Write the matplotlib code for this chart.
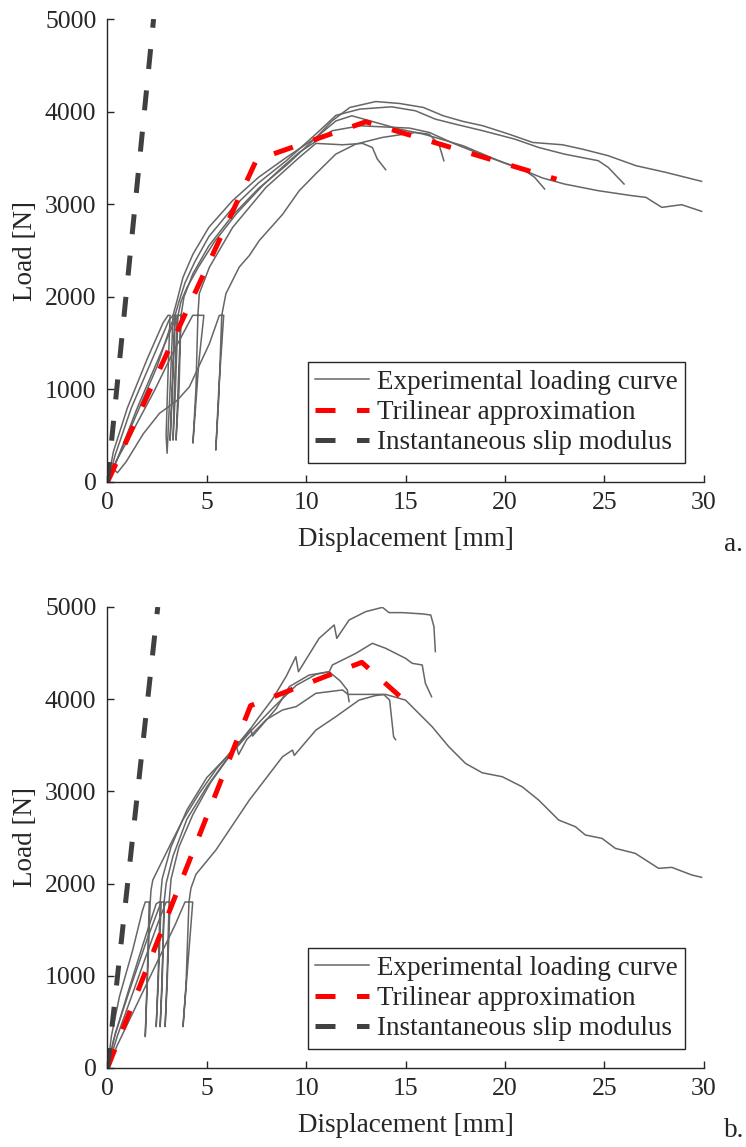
import matplotlib
matplotlib.use("Agg")
import matplotlib.pyplot as plt

plt.rcParams['font.family'] = ['Liberation Serif', 'DejaVu Serif']
plt.rcParams['font.size'] = 19.5

# ---------------- panel a: experimental curves (displacement mm, load N)
a1_x = [0, 0.3, 1.0, 2.0, 2.8, 3.05, 3.15, 3.05, 2.95, 3.0, 3.15, 3.3, 3.5, 3.8, 4.3, 5.1, 6.3, 7.6, 9.0, 10.5,
        11.3, 12.2, 13.5, 14.7, 15.9, 16.9, 17.9, 18.9, 20.2, 21.4, 22.9, 23.9, 25.2, 26.6, 28.1, 29.9]
a1_y = [0, 330, 800, 1330, 1720, 1800, 1800, 1200, 500, 310, 1000, 1800, 1960, 2210, 2460, 2750, 3040, 3290, 3505, 3720,
        3900, 4045, 4109, 4088, 4045, 3955, 3894, 3847, 3757, 3667, 3642, 3595, 3524, 3416, 3344, 3247]

a2_x = [0, 0.4, 1.2, 2.2, 3.1, 3.3, 3.4, 3.25, 3.15, 3.25, 3.4, 3.6, 3.9, 4.4, 5.1, 6.3, 7.6, 9.0, 10.5, 11.5,
        12.7, 14.3, 15.5, 16.5, 17.5, 18.9, 20.5, 21.7, 23.0, 24.7, 25.2, 26.0]
a2_y = [0, 300, 800, 1300, 1750, 1800, 1800, 1000, 450, 900, 1800, 1950, 2150, 2380, 2650, 2960, 3230, 3470, 3760, 3960,
        4027, 4052, 4009, 3919, 3865, 3793, 3703, 3613, 3541, 3470, 3398, 3218]

a3_x = [0, 0.5, 1.5, 2.5, 3.4, 3.6, 3.7, 3.55, 3.45, 3.6, 3.7, 3.85, 4.3, 5.1, 6.3, 7.6, 9.0, 10.5, 11.5, 12.3,
        13.5, 14.7, 15.9, 16.5, 17.9, 18.9, 19.9, 21.0, 21.9, 23.0, 24.7, 26.4, 27.1, 27.9, 28.9, 29.9]
a3_y = [0, 250, 800, 1300, 1750, 1800, 1800, 1000, 452, 1000, 1800, 2000, 2250, 2550, 2880, 3170, 3420, 3721, 3900, 3955,
        3883, 3811, 3757, 3721, 3631, 3541, 3451, 3362, 3283, 3218, 3146, 3092, 3074, 2966, 2995, 2923]

a4_x = [0, 0.4, 1.5, 2.5, 3.2, 3.4, 3.5, 3.35, 3.3, 3.4, 3.55, 3.7, 4.0, 4.6, 5.4, 6.5, 7.8, 8.8, 9.65, 11.3,
        12.7, 15.2, 16.2, 17.5, 19.2, 20.9, 21.5, 22.0]
a4_y = [0, 200, 750, 1250, 1700, 1800, 1800, 900, 452, 900, 1800, 1950, 2100, 2330, 2600, 2900, 3200, 3400, 3560, 3793,
        3847, 3822, 3775, 3649, 3505, 3380, 3290, 3164]

a5_x = [0, 0.45, 1.4, 2.36, 3.3, 4.29, 4.85, 4.6, 4.3, 4.45, 4.55, 4.62, 5.13, 6.3, 7.97, 9.65, 10.49, 11.83,
        12.83, 13.33, 13.58, 14.0]
a5_y = [0, 231, 600, 986, 1400, 1800, 1800, 1300, 420, 1000, 1800, 2036, 2320, 2750, 3180, 3505, 3657, 3642,
        3657, 3613, 3488, 3373]

a6_x = [0, 0.3, 0.5, 0.94, 1.8, 2.61, 3.5, 4.12, 4.6, 5.13, 5.63, 5.85, 5.6, 5.45, 5.6, 5.75, 5.96, 6.63, 7.14,
        7.64, 8.81, 9.65, 10.49, 11.49, 12.49, 13.83, 15.5, 16.18, 16.68, 16.93]
a6_y = [0, 140, 100, 219, 520, 740, 880, 1027, 1250, 1494, 1800, 1800, 1000, 344, 900, 1800, 2034, 2321, 2446,
        2608, 2890, 3146, 3330, 3541, 3649, 3721, 3775, 3757, 3649, 3470]

a_tri_x = [0, 7.5, 13.0, 22.6]
a_tri_y = [0, 3480, 3890, 3270]
a_slip_x = [0, 2.32]
a_slip_y = [0, 5000]

# ---------------- panel b
b1_x = [0, 0.3, 1.0, 1.8, 2.45, 2.6, 2.7, 2.55, 2.45, 2.55, 2.65, 2.75, 3.2, 4.0, 5.0, 5.8, 6.8, 7.6, 8.3, 9.0,
        9.48, 9.61, 10.65, 11.41, 11.54, 12.16, 13.0, 13.84, 14.17, 14.84, 15.84, 16.27, 16.43, 16.5]
b1_y = [0, 300, 800, 1350, 1780, 1800, 1800, 900, 448, 1000, 1800, 2050, 2400, 2800, 3150, 3330, 3560, 3800, 4000, 4250,
        4461, 4298, 4660, 4805, 4660, 4859, 4950, 4996, 4939, 4939, 4925, 4913, 4787, 4516]

b2_x = [0, 0.2, 0.6, 1.27, 1.75, 1.9, 2.1, 2.0, 1.9, 2.0, 2.15, 2.19, 2.28, 2.61, 3.28, 3.79, 4.62, 5.5, 6.5,
        7.2, 7.3, 8.5, 9.15, 10.15, 11.16, 11.32, 12.5, 13.33, 14.0, 15.0, 15.34, 15.84, 16.0, 16.31]
b2_y = [0, 350, 773, 1280, 1700, 1800, 1800, 1000, 340, 900, 1800, 1930, 2038, 2183, 2473, 2690, 2979, 3250, 3500,
        3680, 3600, 3900, 4136, 4262, 4298, 4371, 4497, 4606, 4552, 4443, 4389, 4371, 4172, 4027]

b3_x = [0, 0.5, 1.5, 2.5, 2.95, 3.15, 3.0, 2.9, 3.0, 3.1, 3.2, 3.6, 4.3, 5.2, 6.2, 7.2, 8.3, 9.5, 10.5, 11.15,
        11.7, 12.07, 12.16]
b3_y = [0, 350, 950, 1550, 1800, 1800, 900, 448, 1000, 1800, 2050, 2400, 2750, 3100, 3400, 3650, 3900, 4150, 4270, 4298,
        4200, 4100, 3974]

b4_x = [0, 0.4, 1.2, 2.0, 2.7, 2.85, 2.75, 2.65, 2.75, 2.85, 2.95, 3.3, 4.0, 5.0, 6.0, 6.5, 6.6, 7.0, 8.0, 8.81,
        9.5, 10.49, 11.83, 12.1, 13.9, 14.2, 14.4, 14.5]
b4_y = [0, 380, 900, 1400, 1800, 1800, 900, 448, 1000, 1800, 2000, 2300, 2700, 3050, 3350, 3480, 3400, 3560, 3780, 3883,
        3920, 4064, 4100, 4052, 4052, 3990, 3593, 3560]

b5_x = [0, 0.5, 1.5, 2.5, 3.4, 3.9, 4.29, 4.0, 3.8, 3.95, 4.1, 4.2, 4.45, 5.46, 7.14, 8.81, 9.31, 9.4, 10.49,
        11.49, 12.66, 13.5, 14.0, 15.0, 16.34, 17.18, 18.02, 18.86, 19.87, 20.87, 21.7, 22.71, 23.55, 24.05, 24.89,
        25.56, 26.56, 27.74, 28.4, 29.41, 29.9]
b5_y = [0, 250, 700, 1150, 1550, 1800, 1800, 1000, 448, 900, 1800, 1950, 2100, 2365, 2906, 3376, 3448, 3390, 3665,
        3810, 3990, 4040, 4052, 3990, 3701, 3484, 3303, 3202, 3159, 3050, 2906, 2689, 2617, 2527, 2490,
        2382, 2328, 2165, 2176, 2093, 2068]

b_tri_x = [0, 7.2, 12.8, 15.5]
b_tri_y = [0, 3930, 4400, 3880]
b_slip_x = [0, 2.53]
b_slip_y = [0, 5000]

a_curves = [(a1_x, a1_y), (a2_x, a2_y), (a3_x, a3_y), (a4_x, a4_y), (a5_x, a5_y), (a6_x, a6_y)]
b_curves = [(b1_x, b1_y), (b2_x, b2_y), (b3_x, b3_y), (b4_x, b4_y), (b5_x, b5_y)]

dark = '#262626'
gray = '#666666'

fig = plt.figure(figsize=(7.46, 11.47), dpi=100)
ax1 = fig.add_axes([0.1441, 0.5798, 0.799, 0.4036])
ax2 = fig.add_axes([0.1441, 0.0689, 0.799, 0.4019])


def draw(ax, curves, tri_x, tri_y, slip_x, slip_y):
    for i, (cx, cy) in enumerate(curves):
        ax.plot(cx, cy, color=gray, lw=1.1, label='Experimental loading curve' if i == 0 else None)
    ax.plot(tri_x, tri_y, color='red', lw=3.6, dashes=(4, 4.3), label='Trilinear approximation')
    ax.plot(slip_x, slip_y, color='#404040', lw=3.6, dashes=(4, 4.3), label='Instantaneous slip modulus')
    ax.set_xlim(0, 30)
    ax.set_ylim(0, 5000)
    ax.set_xticks(range(0, 31, 5))
    ax.set_yticks(range(0, 5001, 1000))
    for s in ['top', 'right']:
        ax.spines[s].set_visible(False)
    for s in ['left', 'bottom']:
        ax.spines[s].set_color(dark)
        ax.spines[s].set_linewidth(1.0)
    ax.tick_params(direction='in', length=5, width=1.0, colors=dark, labelcolor=dark, labelsize=18.5)
    ax.tick_params(axis='y', pad=8)
    ax.tick_params(axis='x', pad=7.5)
    ax.set_xlabel('Displacement [mm]', color=dark, labelpad=9)
    ax.set_ylabel('Load [N]', color=dark, labelpad=5)
    leg = ax.legend(loc='lower right', bbox_to_anchor=(0.969, 0.041), frameon=True, fancybox=False,
                    edgecolor=dark, framealpha=1, handlelength=2.0, handletextpad=0.27,
                    labelspacing=0.2, borderpad=0.28, borderaxespad=0)
    leg.get_frame().set_linewidth(1.0)
    for t in leg.get_texts():
        t.set_color(dark)


draw(ax1, a_curves, a_tri_x, a_tri_y, a_slip_x, a_slip_y)
draw(ax2, b_curves, b_tri_x, b_tri_y, b_slip_x, b_slip_y)

fig.text(724 / 746, 1 - 551 / 1147, 'a.', ha='left', va='baseline', color=dark)
fig.text(724 / 746, 1 - 1137 / 1147, 'b.', ha='left', va='baseline', color=dark)

fig.savefig('out.png', dpi=100)
